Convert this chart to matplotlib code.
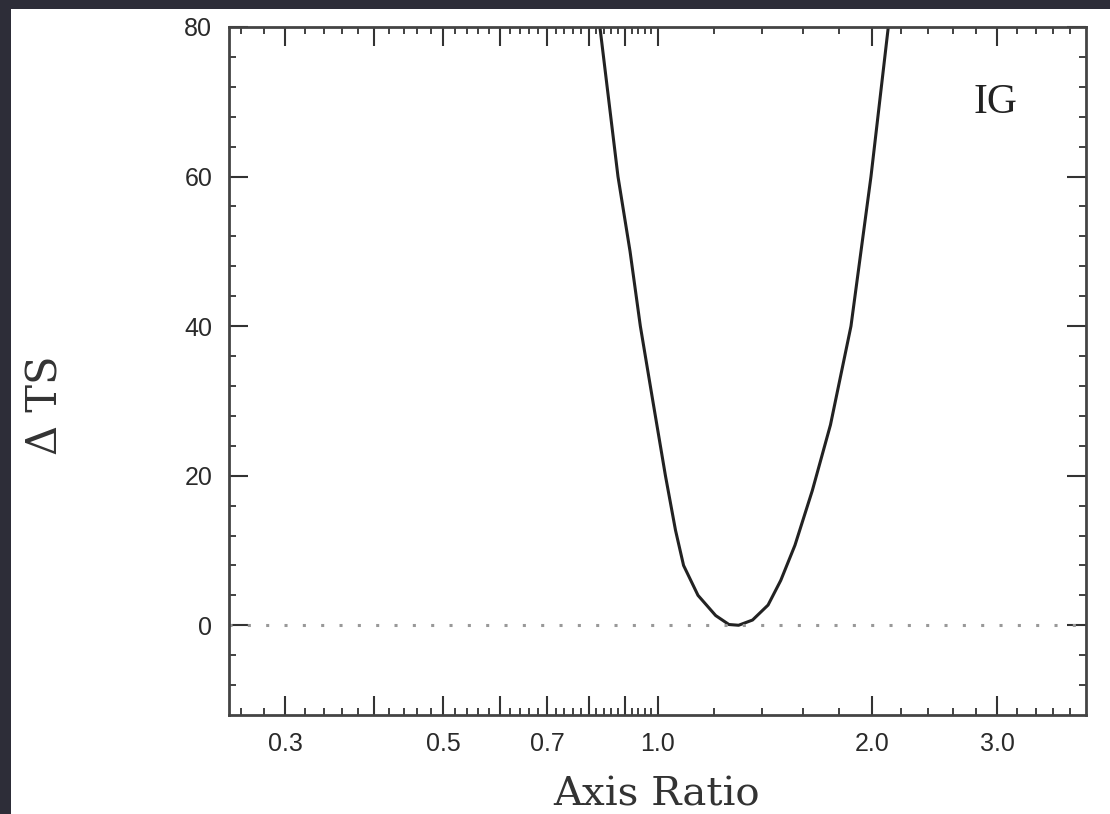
import numpy as np
import matplotlib
matplotlib.use("Agg")
import matplotlib.pyplot as plt
from matplotlib.ticker import FixedLocator, FixedFormatter, NullFormatter

# curve: axis ratio vs delta TS
ratio = [0.83, 0.88, 0.915, 0.946, 0.985, 1.026, 1.06, 1.088, 1.14, 1.207, 1.26, 1.30,
         1.36, 1.43, 1.49, 1.56, 1.65, 1.75, 1.87, 1.995, 2.11]
dts = [80, 60, 50, 40, 30, 20, 12.7, 8, 4, 1.3, 0.1, 0.0,
       0.7, 2.7, 6, 10.7, 18, 26.8, 40, 60, 80]

major_x = [0.3, 0.4, 0.5, 0.6, 0.7, 0.8, 0.9, 1.0, 2.0, 3.0]
major_x_labels = ['0.3', '', '0.5', '', '0.7', '', '', '1.0', '2.0', '3.0']
major_y = [0, 20, 40, 60, 80]

minor_x = [v for v in np.round(np.arange(0.26, 1.0, 0.02), 2) if v not in major_x]
minor_x += [v for v in np.round(np.arange(1.2, 4.0, 0.2), 1) if v not in major_x]
minor_y = [v for v in range(-8, 81, 4) if v not in major_y]

fig = plt.figure(figsize=(11.1, 8.14), dpi=100)
fig.patch.set_facecolor('#2d2d38')
# white page
fig.add_artist(plt.Rectangle((11 / 1110, 0), 1, (814 - 9) / 814,
                             transform=fig.transFigure, facecolor='white',
                             edgecolor='none', zorder=0))

ax = fig.add_axes([229 / 1110, 99 / 814, (1086 - 229) / 1110, (715 - 27) / 814])
ax.set_facecolor('white')

ax.plot(ratio, dts, color='#222222', lw=2.2, solid_joinstyle='round')
ax.axhline(0, color='#999999', lw=2.2, linestyle=(0, (1, 5)))

ax.set_xscale('log')
ax.set_xlim(0.25, 4.0)
ax.set_ylim(-12, 80)

ax.xaxis.set_major_locator(FixedLocator(major_x))
ax.xaxis.set_major_formatter(FixedFormatter(major_x_labels))
ax.xaxis.set_minor_locator(FixedLocator(minor_x))
ax.xaxis.set_minor_formatter(NullFormatter())
ax.yaxis.set_major_locator(FixedLocator(major_y))
ax.yaxis.set_minor_locator(FixedLocator(minor_y))

ax.tick_params(which='both', direction='in', top=True, right=True, color='#333333')
ax.tick_params(which='major', length=14, width=1.5, labelsize=18, pad=12,
               labelcolor='#2a2a2a')
ax.tick_params(which='minor', length=5, width=1.3)
for lab in ax.get_xticklabels() + ax.get_yticklabels():
    lab.set_family('Liberation Sans')

for s in ax.spines.values():
    s.set_linewidth(2)
    s.set_color('#444444')

fig.text(657 / 1110, 1 - 795 / 814, 'Axis Ratio', family='DejaVu Serif',
         fontsize=29, color='#333333', ha='center', va='center')
fig.text(46 / 1110, 1 - 405 / 814, 'Δ TS', family='DejaVu Serif', fontsize=30,
         color='#333333', ha='center', va='center', rotation=90)
ax.text(0.894, 0.89, 'IG', transform=ax.transAxes, family='Liberation Serif',
        fontsize=30, color='#222222', ha='center', va='center')

fig.savefig('out.png', dpi=100, facecolor=fig.get_facecolor())
